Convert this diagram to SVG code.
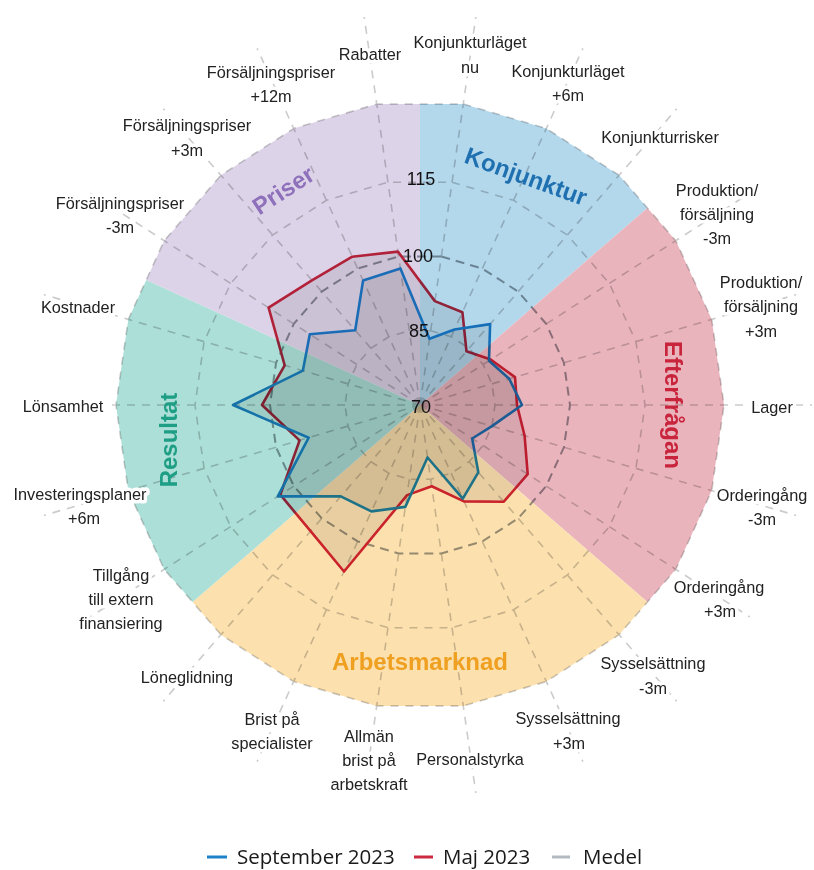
<svg xmlns="http://www.w3.org/2000/svg" width="814" height="870" viewBox="0 0 814 870">
<style>
.grid{fill:none;stroke:#cbcbcb;stroke-width:1.6;stroke-dasharray:8 7}
.medel{fill:none;stroke:#979ca1;stroke-width:2;stroke-dasharray:9 6}
.ser{fill:#000;fill-opacity:0.08;stroke-width:2.6;stroke-linejoin:round}
.lbl{font-family:"Liberation Sans",Arial,sans-serif;font-size:16.3px;fill:#222;text-anchor:middle;stroke:#fff;stroke-width:7;stroke-linejoin:round;paint-order:stroke}
.val{font-family:"Liberation Sans",Arial,sans-serif;font-size:18px;fill:#111;text-anchor:middle}
.cat{font-family:"Liberation Sans",Arial,sans-serif;font-size:24px;font-weight:bold;text-anchor:middle}
.leg{font-family:"Open Sans","Liberation Sans",sans-serif;font-size:20.5px;fill:#1a1a1a}
</style>
<rect width="814" height="870" fill="#fff"/>
<g id="grid">
<g class="grid">
<line x1="420" y1="405" x2="475.8" y2="17"/>
<line x1="420" y1="405" x2="582.9" y2="48.4"/>
<line x1="420" y1="405" x2="676.7" y2="108.8"/>
<line x1="420" y1="405" x2="749.8" y2="193.1"/>
<line x1="420" y1="405" x2="796.1" y2="294.6"/>
<line x1="420" y1="405" x2="812" y2="405"/>
<line x1="420" y1="405" x2="796.1" y2="515.4"/>
<line x1="420" y1="405" x2="749.8" y2="616.9"/>
<line x1="420" y1="405" x2="676.7" y2="701.2"/>
<line x1="420" y1="405" x2="582.9" y2="761.6"/>
<line x1="420" y1="405" x2="475.8" y2="793"/>
<line x1="420" y1="405" x2="364.2" y2="793"/>
<line x1="420" y1="405" x2="257.1" y2="761.6"/>
<line x1="420" y1="405" x2="163.3" y2="701.2"/>
<line x1="420" y1="405" x2="90.2" y2="616.9"/>
<line x1="420" y1="405" x2="43.9" y2="515.4"/>
<line x1="420" y1="405" x2="28" y2="405"/>
<line x1="420" y1="405" x2="43.9" y2="294.6"/>
<line x1="420" y1="405" x2="90.2" y2="193.1"/>
<line x1="420" y1="405" x2="163.3" y2="108.8"/>
<line x1="420" y1="405" x2="257.1" y2="48.4"/>
<line x1="420" y1="405" x2="364.2" y2="17"/>
<polygon points="430.7,330.8 451.2,336.8 469.1,348.3 483.1,364.5 492,383.9 495,405 492,426.1 483.1,445.5 469.1,461.7 451.2,473.2 430.7,479.2 409.3,479.2 388.8,473.2 370.9,461.7 356.9,445.5 348,426.1 345,405 348,383.9 356.9,364.5 370.9,348.3 388.8,336.8 409.3,330.8"/>
<polygon points="452,182.3 513.5,200.3 567.4,235 609.3,283.4 635.9,341.6 645,405 635.9,468.4 609.3,526.6 567.4,575 513.5,609.7 452,627.7 388,627.7 326.5,609.7 272.6,575 230.7,526.6 204.1,468.4 195,405 204.1,341.6 230.7,283.4 272.6,235 326.5,200.3 388,182.3"/>
<polygon points="463.3,104.1 546.3,128.5 619.1,175.3 675.8,240.7 711.7,319.4 724,405 711.7,490.6 675.8,569.3 619.1,634.7 546.3,681.5 463.3,705.9 376.7,705.9 293.7,681.5 220.9,634.7 164.2,569.3 128.3,490.6 116,405 128.3,319.4 164.2,240.7 220.9,175.3 293.7,128.5 376.7,104.1"/>
</g>
<polygon class="medel" points="441.3,256.5 482.3,268.6 518.2,291.6 546.2,323.9 563.9,362.7 570,405 563.9,447.3 546.2,486.1 518.2,518.4 482.3,541.4 441.3,553.5 398.7,553.5 357.7,541.4 321.8,518.4 293.8,486.1 276.1,447.3 270,405 276.1,362.7 293.8,323.9 321.8,291.6 357.7,268.6 398.7,256.5"/>
</g>
<g id="series">
<polygon id="maj-2023" class="ser" stroke="#cd283e" points="434.9,301.1 462.4,312.2 466.5,351.3 490.7,359.6 515,377.1 517,405 524.6,435.7 527.7,474.2 503.8,501.7 464,501.4 431.7,486.2 407.1,495.1 344,571.5 310.6,531.2 280.3,494.7 299.6,440.4 262,405 284.7,365.3 268.6,307.7 311.9,280.3 352.3,256.7 397.9,251.6"/>
<polygon id="september-2023" class="ser" stroke="#1e82c8" points="429.5,338.7 454.5,329.5 490.1,324.1 489,360.7 509.2,378.8 522,405 492,426.1 472.2,438.5 478.3,472.3 462.8,498.7 427.5,457.5 405.3,506.9 371.4,511.4 340.8,496.4 277.8,496.4 308.7,437.7 233,405 302.9,370.6 309.8,334.2 355.2,330.2 363.1,280.4 400.4,268.4"/>
</g>
<g id="sectors" style="mix-blend-mode:multiply">
<path id="sector-konjunktur" fill="#b3d7eb" d="M420,405 L420,104.1 L463.3,104.1 L546.3,128.5 L619.1,175.3 L647.4,207.9 Z"/>
<path id="sector-efterfragan" fill="#eab4bd" d="M420,405 L647.4,207.9 L675.8,240.7 L711.7,319.4 L724,405 L711.7,490.6 L675.8,569.3 L647.4,602.1 Z"/>
<path id="sector-arbetsmarknad" fill="#fce0ae" d="M420,405 L647.4,602.1 L619.1,634.7 L546.3,681.5 L463.3,705.9 L376.7,705.9 L293.7,681.5 L220.9,634.7 L192.6,602.1 Z"/>
<path id="sector-resultat" fill="#acdfd7" d="M420,405 L192.6,602.1 L164.2,569.3 L128.3,490.6 L116,405 L128.3,319.4 L146.3,280 Z"/>
<path id="sector-priser" fill="#ddd3e8" d="M420,405 L146.3,280 L164.2,240.7 L220.9,175.3 L293.7,128.5 L376.7,104.1 L420,104.1 Z"/>
</g>
<g id="values">
<text class="val" x="421" y="184.5">115</text>
<text class="val" x="418" y="261.5">100</text>
<text class="val" x="419" y="336.5">85</text>
<text class="val" x="421" y="412.5">70</text>
</g>
<g id="categories">
<text class="cat" fill="#1f70b0" transform="translate(526,176) rotate(20)" x="0" y="8.6">Konjunktur</text>
<text class="cat" fill="#c8243c" transform="translate(674,405) rotate(90)" x="0" y="8.6">Efterfrågan</text>
<text class="cat" fill="#f0a020" x="420" y="669.6">Arbetsmarknad</text>
<text class="cat" fill="#1f9e86" transform="translate(168,440) rotate(-90)" x="0" y="8.6">Resultat</text>
<text class="cat" fill="#8e70bb" transform="translate(283,190) rotate(-33)" x="0" y="8.6">Priser</text>
</g>
<g id="axis-labels">
<text class="lbl" x="470" y="47.5">Konjunkturläget</text>
<text class="lbl" x="470" y="72.5">nu</text>
<text class="lbl" x="370" y="59.5">Rabatter</text>
<text class="lbl" x="568" y="76.5">Konjunkturläget</text>
<text class="lbl" x="568" y="100.5">+6m</text>
<text class="lbl" x="660" y="142.5">Konjunkturrisker</text>
<text class="lbl" x="717" y="195.5">Produktion/</text>
<text class="lbl" x="717" y="219.5">försäljning</text>
<text class="lbl" x="717" y="243.5">-3m</text>
<text class="lbl" x="761" y="287.5">Produktion/</text>
<text class="lbl" x="761" y="312">försäljning</text>
<text class="lbl" x="761" y="336.5">+3m</text>
<text class="lbl" x="772" y="412.5">Lager</text>
<text class="lbl" x="762" y="500.5">Orderingång</text>
<text class="lbl" x="762" y="524.5">-3m</text>
<text class="lbl" x="719" y="592.5">Orderingång</text>
<text class="lbl" x="720" y="617">+3m</text>
<text class="lbl" x="653" y="668.5">Sysselsättning</text>
<text class="lbl" x="653" y="693.5">-3m</text>
<text class="lbl" x="568" y="723.5">Sysselsättning</text>
<text class="lbl" x="569" y="748.5">+3m</text>
<text class="lbl" x="470" y="764.5">Personalstyrka</text>
<text class="lbl" x="369" y="741.5">Allmän</text>
<text class="lbl" x="369" y="765.5">brist på</text>
<text class="lbl" x="369" y="789.5">arbetskraft</text>
<text class="lbl" x="272" y="724.5">Brist på</text>
<text class="lbl" x="272" y="748.5">specialister</text>
<text class="lbl" x="187" y="682.5">Löneglidning</text>
<text class="lbl" x="121" y="580.5">Tillgång</text>
<text class="lbl" x="121" y="604.5">till extern</text>
<text class="lbl" x="121" y="628.5">finansiering</text>
<text class="lbl" x="80" y="499.5">Investeringsplaner</text>
<text class="lbl" x="84" y="523.5">+6m</text>
<text class="lbl" x="63" y="411.5">Lönsamhet</text>
<text class="lbl" x="78" y="312.5">Kostnader</text>
<text class="lbl" x="120" y="208.5">Försäljningspriser</text>
<text class="lbl" x="120" y="232.5">-3m</text>
<text class="lbl" x="187" y="130.5">Försäljningspriser</text>
<text class="lbl" x="187" y="155.5">+3m</text>
<text class="lbl" x="271" y="77.5">Försäljningspriser</text>
<text class="lbl" x="271" y="101.5">+12m</text>
</g>
<g id="legend">
<line x1="207" y1="857" x2="227" y2="857" stroke="#1e82c8" stroke-width="3"/>
<text class="leg" x="237" y="864">September 2023</text>
<line x1="414" y1="857" x2="433" y2="857" stroke="#cd283e" stroke-width="3"/>
<text class="leg" x="443" y="864">Maj 2023</text>
<line x1="552" y1="857" x2="570" y2="857" stroke="#b3bac1" stroke-width="3"/>
<text class="leg" x="583" y="864">Medel</text>
</g>
</svg>
